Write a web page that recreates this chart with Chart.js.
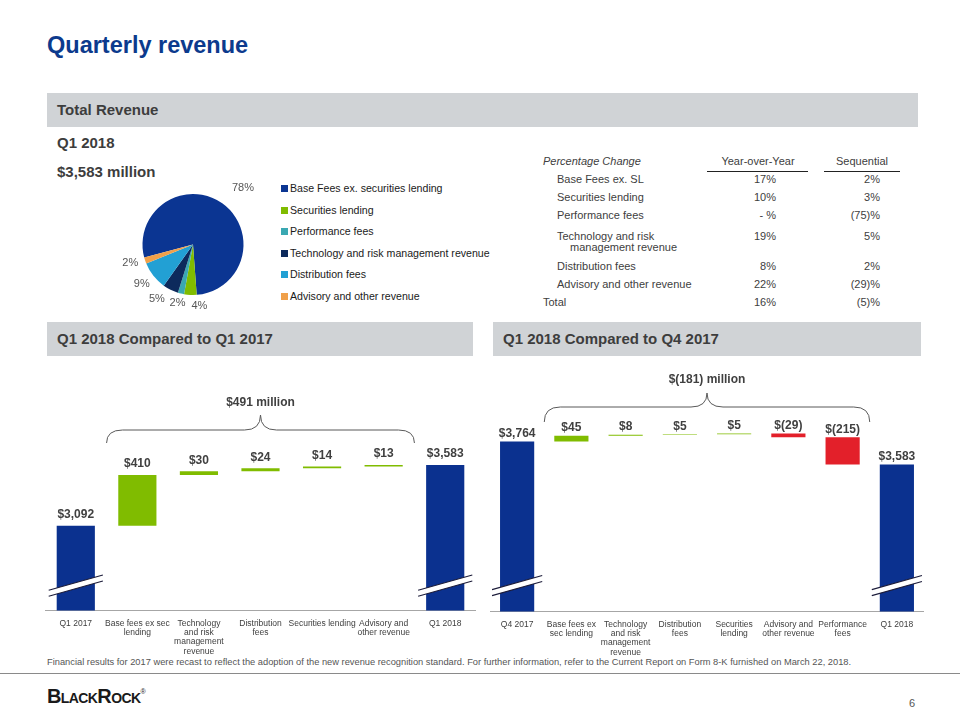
<!DOCTYPE html>
<html>
<head>
<meta charset="utf-8">
<script src="https://cdn.jsdelivr.net/npm/chart.js@4/dist/chart.umd.min.js"></script>
<style>
  body { margin: 0; background: #fff; font-family: "Liberation Sans", Arial, sans-serif; color: #404040; }
  #slide { position: relative; width: 960px; height: 720px; overflow: hidden; }
  .abs { position: absolute; }
  .band { position: absolute; background: #d0d3d6; height: 34px; line-height: 34px; font-weight: bold; font-size: 15px; color: #3d3d3d; box-sizing: border-box; padding-left: 10px; }
  .legend-item { position: absolute; left: 0; font-size: 10.6px; color: #1a1a1a; white-space: nowrap; }
  .legend-item span { display: inline-block; width: 7px; height: 7px; margin-right: 2px; vertical-align: 0px; }
  .trow { position: absolute; font-size: 11px; color: #404040; white-space: nowrap; }
</style>
</head>
<body>
<div id="slide">
  <div class="abs" style="left:47px;top:32px;font-size:23.5px;font-weight:bold;color:#0c3a8d;">Quarterly revenue</div>
  <div class="band" style="left:47px;top:93px;width:871px;">Total Revenue</div>
  <div class="abs" style="left:57px;top:134px;font-size:15px;font-weight:bold;color:#3d3d3d;">Q1 2018</div>
  <div class="abs" style="left:57px;top:163px;font-size:15px;font-weight:bold;color:#3d3d3d;">$3,583 million</div>

  <canvas id="pie" class="abs" style="left:118px;top:177px;" width="150" height="135"></canvas>
  <div id="legend" class="abs" style="left:281px;top:182px;width:220px;height:125px;"></div>
  <div id="table" class="abs" style="left:530px;top:150px;width:390px;height:165px;"></div>

  <div class="band" style="left:47px;top:322px;width:426px;">Q1 2018 Compared to Q1 2017</div>
  <div class="band" style="left:493px;top:322px;width:428px;">Q1 2018 Compared to Q4 2017</div>

  <canvas id="left" class="abs" style="left:45px;top:360px;" width="431" height="296"></canvas>
  <canvas id="right" class="abs" style="left:490px;top:360px;" width="434" height="297"></canvas>

  <div class="abs" style="left:47px;top:657px;font-size:9.3px;color:#555;white-space:nowrap;">Financial results for 2017 were recast to reflect the adoption of the new revenue recognition standard. For further information, refer to the Current Report on Form 8-K furnished on March 22, 2018.</div>
  <div class="abs" style="left:0;top:673px;width:960px;height:1px;background:#8a8a8a;"></div>
  <div class="abs" style="left:47px;top:685px;font-size:20px;font-weight:bold;font-variant:small-caps;color:#1a1a1a;letter-spacing:-0.6px;">BlackRock<sup style="font-size:7px;font-weight:normal;vertical-align:9px;">®</sup></div>
  <div class="abs" style="left:909px;top:697px;font-size:11px;color:#555;">6</div>
</div>

<script>
// ---- pie data (Q1 2018 revenue mix, %)
var pieLabels = ['Base Fees ex. securities lending', 'Securities lending', 'Performance fees',
                 'Technology and risk management revenue', 'Distribution fees', 'Advisory and other revenue'];
var pieValues = [78, 4, 2, 5, 9, 2];
var pieColors = ['#0b3592', '#80bc00', '#3aa8b2', '#0d2a5c', '#22a0d4', '#f0a04a'];

// ---- percentage change table
var tableRows = ['Base Fees ex. SL', 'Securities lending', 'Performance fees',
                 ['Technology and risk', 'management  revenue'], 'Distribution fees',
                 'Advisory and other revenue', 'Total'];
var yoyChange = ['17%', '10%', '- %', '19%', '8%', '22%', '16%'];
var seqChange = ['2%', '3%', '(75)%', '5%', '2%', '(29)%', '(5)%'];

// ---- waterfall: Q1 2018 vs Q1 2017
var leftCats = ['Q1 2017', ['Base fees ex sec', 'lending'], ['Technology', 'and risk', 'management', 'revenue'],
                ['Distribution', 'fees'], 'Securities lending', ['Advisory and', 'other revenue'], 'Q1 2018'];
var leftValues = [3092, 410, 30, 24, 14, 13, 3583];
var leftIsTotal = [true, false, false, false, false, false, true];

// ---- waterfall: Q1 2018 vs Q4 2017
var rightCats = ['Q4 2017', ['Base fees ex', 'sec lending'], ['Technology', 'and risk', 'management', 'revenue'],
                 ['Distribution', 'fees'], ['Securities', 'lending'], ['Advisory and', 'other revenue'],
                 ['Performance', 'fees'], 'Q1 2018'];
var rightValues = [3764, 45, 8, 5, 5, -29, -215, 3583];
var rightIsTotal = [true, false, false, false, false, false, false, true];

var BLUE = '#0b318f', GREEN = '#80bc00', RED = '#e3202a';
var FONT = '"Liberation Sans", Arial, sans-serif';

// legend
var lg = document.getElementById('legend');
pieLabels.forEach(function (l, i) {
  var d = document.createElement('div');
  d.className = 'legend-item';
  d.style.top = (i * 21.6) + 'px';
  d.innerHTML = '<span style="background:' + pieColors[i] + '"></span>' + l;
  lg.appendChild(d);
});

// table
var tb = document.getElementById('table');
function addText(html, x, y, style) {
  var d = document.createElement('div');
  d.className = 'trow';
  d.style.left = x + 'px'; d.style.top = y + 'px';
  if (style) d.style.cssText += style;
  d.innerHTML = html;
  tb.appendChild(d);
  return d;
}
addText('Percentage Change', 13, 5, 'font-style:italic;');
addText('Year-over-Year', 188, 5, 'width:80px;text-align:center;');
addText('Sequential', 302, 5, 'width:60px;text-align:center;');
addText('', 177, 21, 'width:101px;height:1px;background:#222;');
addText('', 294, 21, 'width:76px;height:1px;background:#222;');
var rowY = [24, 42, 60, 81, 111, 129, 147];
tableRows.forEach(function (r, i) {
  var isTotal = r === 'Total';
  var txt = Array.isArray(r) ? r[0] + '<br><span style="padding-left:13px">' + r[1] + '</span>' : r;
  addText(txt, isTotal ? 13 : 27, rowY[i], 'line-height:11px;');
  addText(yoyChange[i], 186, rowY[i], 'width:60px;text-align:right;line-height:11px;');
  addText(seqChange[i], 290, rowY[i], 'width:60px;text-align:right;line-height:11px;');
});

// pie labels plugin (small angular nudges keep the crowded labels apart)
var pieLabelPlugin = {
  id: 'pieLabels',
  afterDatasetsDraw: function (chart, args, opts) {
    var ctx = chart.ctx;
    var meta = chart.getDatasetMeta(0);
    ctx.save();
    ctx.font = '11px ' + FONT;
    ctx.fillStyle = '#555';
    ctx.textAlign = 'center';
    ctx.textBaseline = 'middle';
    meta.data.forEach(function (arc, i) {
      var mid = (arc.startAngle + arc.endAngle) / 2 + opts.nudge[i] * Math.PI / 180;
      var r = arc.outerRadius + opts.gap[i];
      ctx.fillText(pieValues[i] + '%', arc.x + Math.cos(mid) * r, arc.y + Math.sin(mid) * r);
    });
    ctx.restore();
  }
};

new Chart(document.getElementById('pie'), {
  type: 'pie',
  data: { labels: pieLabels, datasets: [{ data: pieValues, backgroundColor: pieColors, borderWidth: 0 }] },
  options: {
    responsive: false, animation: false, rotation: 255,
    layout: { padding: 17 },
    plugins: { legend: { display: false }, tooltip: { enabled: false },
               pieLabels: { nudge: [6, -9, 1, 7, 1, 2], gap: [25, 11, 10, 15, 14, 15] } }
  },
  plugins: [pieLabelPlugin]
});

// waterfall helpers
function floats(values, isTotal) {
  var run = 0;
  return values.map(function (v, i) {
    if (isTotal[i]) { run = v; return [0, v]; }
    var a = run; run += v; return [a, run];
  });
}
function barColors(values, isTotal) {
  return values.map(function (v, i) { return isTotal[i] ? BLUE : (v < 0 ? RED : GREEN); });
}
function money(v) {
  var s = Math.abs(v).toLocaleString('en-US');
  return v < 0 ? '$(' + s + ')' : '$' + s;
}

var waterfallDecor = {
  id: 'waterfallDecor',
  afterDatasetsDraw: function (chart, args, opts) {
    var ctx = chart.ctx, area = chart.chartArea;
    var meta = chart.getDatasetMeta(0);
    var xs = chart.scales.x;
    ctx.save();
    // value labels
    ctx.font = 'bold 12px ' + FONT;
    ctx.fillStyle = '#404040';
    ctx.textAlign = 'center';
    ctx.textBaseline = 'middle';
    meta.data.forEach(function (bar, i) {
      var top = Math.min(bar.y, bar.base);
      ctx.fillText(money(opts.values[i]), bar.x, top - opts.labelGap);
    });
    // axis breaks on total bars
    meta.data.forEach(function (bar, i) {
      if (!opts.isTotal[i]) return;
      var cy = area.bottom - opts.breakUp, half = bar.width / 2 + 8, s = 0.28;
      var x1 = bar.x - half, x2 = bar.x + half;
      ctx.beginPath();
      ctx.moveTo(x1, cy + half * s - 3); ctx.lineTo(x2, cy - half * s - 3);
      ctx.lineTo(x2, cy - half * s + 3); ctx.lineTo(x1, cy + half * s + 3);
      ctx.closePath();
      ctx.fillStyle = '#fff'; ctx.fill();
      ctx.strokeStyle = '#1c1c3a'; ctx.lineWidth = 1.1;
      ctx.beginPath();
      ctx.moveTo(x1, cy + half * s - 3); ctx.lineTo(x2, cy - half * s - 3);
      ctx.moveTo(x1, cy + half * s + 3); ctx.lineTo(x2, cy - half * s + 3);
      ctx.stroke();
    });
    // brace over the change bars
    var step = xs.getPixelForValue(1) - xs.getPixelForValue(0);
    var bx1 = xs.getPixelForValue(1) - step / 2, bx2 = xs.getPixelForValue(opts.values.length - 2) + step / 2;
    var yEnd = area.top + opts.brace[0], yLine = area.top + opts.brace[1], yPeak = area.top + opts.brace[2];
    var cx = (bx1 + bx2) / 2, k = 16;
    ctx.strokeStyle = '#595959'; ctx.lineWidth = 1;
    ctx.beginPath();
    ctx.moveTo(bx1, yEnd);
    ctx.quadraticCurveTo(bx1, yLine, bx1 + k, yLine);
    ctx.lineTo(cx - k, yLine);
    ctx.quadraticCurveTo(cx, yLine, cx, yPeak);
    ctx.quadraticCurveTo(cx, yLine, cx + k, yLine);
    ctx.lineTo(bx2 - k, yLine);
    ctx.quadraticCurveTo(bx2, yLine, bx2, yEnd);
    ctx.stroke();
    ctx.font = 'bold 12px ' + FONT;
    ctx.fillStyle = '#404040';
    ctx.fillText(opts.braceText, cx, area.top + opts.brace[3]);
    ctx.restore();
  }
};

function waterfall(id, cats, values, isTotal, yMin, yMax, barPct, decor) {
  decor.values = values; decor.isTotal = isTotal;
  return new Chart(document.getElementById(id), {
    type: 'bar',
    data: {
      labels: cats,
      datasets: [{ data: floats(values, isTotal), backgroundColor: barColors(values, isTotal),
                   barPercentage: barPct, categoryPercentage: 1, borderWidth: 0 }]
    },
    options: {
      responsive: false, animation: false,
      layout: { padding: { top: 10, left: 0, right: 0, bottom: 0 } },
      scales: {
        x: {
          grid: { display: false },
          border: { color: '#a6a6a6', width: 1 },
          ticks: { color: '#404040', font: { family: FONT, size: 8.5, lineHeight: 1.1 },
                   autoSkip: false, maxRotation: 0, padding: 0 }
        },
        y: { display: false, min: yMin, max: yMax }
      },
      plugins: { legend: { display: false }, tooltip: { enabled: false }, waterfallDecor: decor }
    },
    plugins: [waterfallDecor]
  });
}

waterfall('left', leftCats, leftValues, leftIsTotal, 2408, 4348, 0.62,
  { labelGap: 11, breakUp: 25, brace: [73, 60, 45, 33], braceText: '$491 million' });
waterfall('right', rightCats, rightValues, rightIsTotal, 2418, 4330, 0.63,
  { labelGap: 8, breakUp: 26, brace: [52, 37, 23, 10], braceText: '$(181) million' });
</script>
</body>
</html>
